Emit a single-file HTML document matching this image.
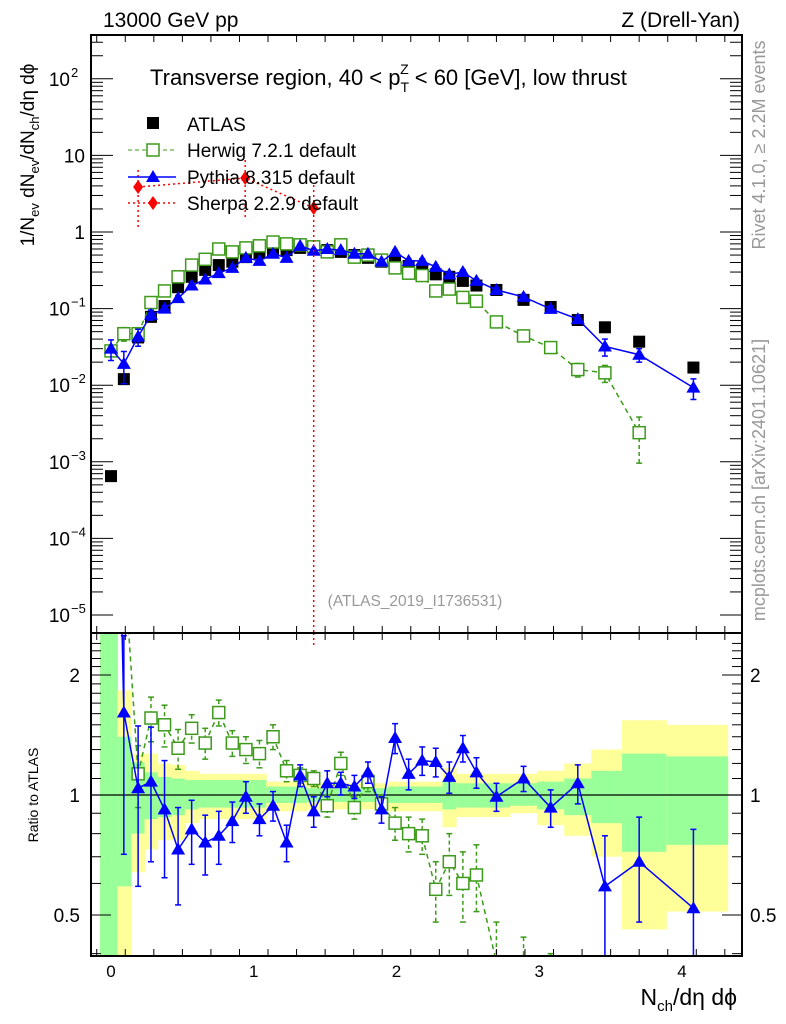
<!DOCTYPE html>
<html><head><meta charset="utf-8"><style>
html,body{margin:0;padding:0;background:#fff;overflow:hidden}
svg{display:block}
svg text{font-family:"Liberation Sans",sans-serif}
</style></head><body>
<svg id="c" width="786" height="1024" xmlns="http://www.w3.org/2000/svg">
<defs>
<clipPath id="cm"><rect x="91" y="35" width="651" height="598"/></clipPath>
<clipPath id="cr"><rect x="91" y="633" width="651" height="323"/></clipPath>
</defs>
<g id="bands" clip-path="url(#cr)"></g>
<g id="ratio" clip-path="url(#cr)"></g>
<g id="main" clip-path="url(#cm)"></g>
<g id="axes"></g>
<text x="103" y="27" font-size="21">13000 GeV pp</text>
<text x="740" y="27" font-size="21" text-anchor="end">Z (Drell-Yan)</text>
<text x="150" y="85" font-size="22">Transverse region, 40 &lt; p<tspan font-size="14" dy="7">T</tspan><tspan font-size="14" dx="-9" dy="-18">Z</tspan><tspan dy="11"> &lt; 60 [GeV], low thrust</tspan></text>
<text x="415" y="606" font-size="15.5" fill="#999" text-anchor="middle">(ATLAS_2019_I1736531)</text>
<text transform="translate(765,145) rotate(-90)" font-size="18" fill="#999" text-anchor="middle">Rivet 4.1.0, ≥ 2.2M events</text>
<text transform="translate(765,480) rotate(-90)" font-size="18" fill="#999" text-anchor="middle">mcplots.cern.ch [arXiv:2401.10621]</text>
<text transform="translate(34,155) rotate(-90)" font-size="19" text-anchor="middle">1/N<tspan font-size="13" dy="5">ev</tspan><tspan dy="-5"> dN</tspan><tspan font-size="13" dy="5">ev</tspan><tspan dy="-5">/dN</tspan><tspan font-size="13" dy="5">ch</tspan><tspan dy="-5">/dη dϕ</tspan></text>
<text transform="translate(38,795) rotate(-90)" font-size="14" text-anchor="middle">Ratio to ATLAS</text>
<text x="737" y="1005" font-size="23" text-anchor="end">N<tspan font-size="15" dy="6">ch</tspan><tspan dy="-6">/dη dϕ</tspan></text>
<g>
<rect x="147" y="117" width="12" height="12" fill="#000"/>
<text x="187" y="131" font-size="19">ATLAS</text>
<line x1="128" y1="150" x2="176" y2="150" stroke="#3d9a1a" stroke-dasharray="4,3"/>
<rect x="147" y="144" width="12" height="12" fill="#fff" stroke="#3d9a1a" stroke-width="1.5"/>
<text x="187" y="157" font-size="19">Herwig 7.2.1 default</text>
<line x1="128" y1="177" x2="176" y2="177" stroke="#00f" stroke-width="1.5"/>
<polygon points="153,170 160,182 146,182" fill="#00f"/>
<text x="187" y="184" font-size="19">Pythia 8.315 default</text>
<line x1="128" y1="203" x2="176" y2="203" stroke="#f00" stroke-width="1.5" stroke-dasharray="2,3"/>
<polygon points="153,196 158,203 153,210 148,203" fill="#f00"/>
<text x="187" y="210" font-size="19">Sherpa 2.2.9 default</text>
</g>
</svg>
<script>
const xCenters=[0,0.09,0.19,0.28,0.375,0.47,0.565,0.66,0.755,0.85,0.945,1.04,1.135,1.23,1.325,1.42,1.515,1.61,1.705,1.80,1.895,1.99,2.085,2.18,2.275,2.37,2.465,2.56,2.70,2.89,3.08,3.27,3.46,3.70,4.08];
const atlas=[0.00065,0.012,0.042,0.078,0.108,0.19,0.26,0.32,0.37,0.41,0.47,0.53,0.58,0.58,0.62,0.62,0.58,0.55,0.50,0.46,0.41,0.40,0.36,0.32,0.28,0.26,0.23,0.20,0.175,0.13,0.105,0.071,0.057,0.037,0.017];
const herwig=[0.028,0.047,0.047,0.12,0.17,0.26,0.37,0.44,0.60,0.55,0.62,0.66,0.74,0.70,0.68,0.64,0.55,0.68,0.47,0.50,0.43,0.34,0.29,0.27,0.17,0.18,0.14,0.125,0.067,0.044,0.031,0.016,0.0145,0.0024,null];
const herwigErr=[0.15,0.2,0.15,0.08,0.06,0.05,0.05,0.05,0.05,0.05,0.05,0.05,0.05,0.05,0.05,0.05,0.05,0.05,0.05,0.05,0.05,0.05,0.05,0.05,0.06,0.06,0.07,0.07,0.08,0.12,0.15,0.2,0.25,0.6,0];
const pythia=[0.030,0.019,0.043,0.083,0.10,0.137,0.20,0.24,0.29,0.34,0.46,0.42,0.52,0.46,0.66,0.57,0.60,0.58,0.52,0.52,0.41,0.55,0.42,0.42,0.35,0.28,0.30,0.23,0.175,0.142,0.099,0.073,0.032,0.025,0.0093];
const pythiaErr=[0.3,0.45,0.25,0.15,0.1,0.08,0.06,0.05,0.05,0.05,0.05,0.05,0.05,0.05,0.05,0.05,0.05,0.05,0.05,0.05,0.05,0.06,0.06,0.06,0.06,0.07,0.07,0.07,0.07,0.08,0.1,0.12,0.25,0.2,0.3];
const sherpaX=[0.19,0.94,1.42];
const sherpa=[3.87,5.06,2.06];
const sherpaUp=[6.45,8.7,4.1];
const sherpaDn=[1.16,1.43,1e-9];
const herwigRatio=[43,3.9,1.13,1.56,1.50,1.31,1.47,1.35,1.61,1.35,1.30,1.27,1.40,1.15,1.12,1.10,0.94,1.20,0.93,1.08,0.95,0.85,0.80,0.79,0.58,0.68,0.60,0.63,0.38,0.34,0.30,0.22,0.25,0.065,null];
const herwigRatioErr=[0,0.5,0.2,0.2,0.18,0.15,0.12,0.12,0.12,0.1,0.1,0.1,0.1,0.07,0.05,0.05,0.06,0.08,0.06,0.06,0.05,0.08,0.08,0.08,0.1,0.12,0.12,0.12,0.1,0.1,0.1,0.1,0.1,0.1,0];
const pythiaRatio=[46,1.61,1.04,1.08,0.92,0.73,0.82,0.76,0.79,0.86,0.99,0.87,0.94,0.76,1.12,0.91,1.07,1.07,1.05,1.14,0.92,1.39,1.13,1.22,1.21,1.11,1.31,1.14,0.99,1.10,0.93,1.07,0.59,0.68,0.52];
const pythiaRatioErr=[0,0.9,0.45,0.4,0.3,0.2,0.15,0.13,0.12,0.1,0.09,0.08,0.08,0.08,0.07,0.08,0.08,0.07,0.07,0.07,0.07,0.12,0.1,0.1,0.1,0.1,0.1,0.1,0.08,0.08,0.1,0.12,0.2,0.2,0.3];
const yellowUp=[2.6,1.83,1.27,1.27,1.20,1.19,1.15,1.13,1.13,1.13,1.13,1.13,1.08,1.08,1.08,1.07,1.07,1.07,1.07,1.07,1.07,1.08,1.08,1.08,1.08,1.17,1.13,1.13,1.13,1.13,1.15,1.20,1.30,1.54,1.50];
const yellowDn=[0.3,0.3,0.64,0.73,0.77,0.77,0.85,0.87,0.87,0.87,0.87,0.87,0.91,0.91,0.91,0.92,0.92,0.92,0.92,0.92,0.92,0.91,0.91,0.91,0.91,0.83,0.88,0.88,0.88,0.90,0.84,0.79,0.70,0.46,0.51];
const greenUp=[2.6,1.40,1.21,1.14,1.11,1.10,1.09,1.09,1.09,1.09,1.09,1.09,1.05,1.05,1.05,1.04,1.04,1.04,1.04,1.04,1.04,1.05,1.05,1.05,1.05,1.08,1.07,1.07,1.07,1.07,1.08,1.10,1.15,1.27,1.25];
const greenDn=[0.3,0.59,0.80,0.87,0.88,0.89,0.92,0.93,0.93,0.93,0.93,0.93,0.955,0.955,0.955,0.96,0.96,0.96,0.96,0.96,0.96,0.955,0.955,0.955,0.955,0.92,0.93,0.93,0.93,0.94,0.92,0.89,0.85,0.72,0.75];
const xTicks=[0,1,2,3,4];
const yTickExp=[-5,-4,-3,-2,-1,0,1,2];
const yTickLabels=["10","10","10","10","10","1","10","10"];
const yTickSups=["−5","−4","−3","−2","−1","","","2"];
const rTicks=[0.5,1,2];

const NS="http://www.w3.org/2000/svg";
const xS=u=>111+142.75*u;
const yM=v=>232-76.6*Math.log10(v);
const yR=r=>795-120*Math.log2(r);
function mk(tag,attrs,parent){const e=document.createElementNS(NS,tag);for(const k in attrs)e.setAttribute(k,attrs[k]);parent.appendChild(e);return e;}
const gB=document.getElementById('bands'),gR=document.getElementById('ratio'),gM=document.getElementById('main'),gA=document.getElementById('axes');

const edges=[];
for(let i=0;i<xCenters.length;i++){
  const lo=i==0?xCenters[0]-(xCenters[1]-xCenters[0])*0.85:(xCenters[i-1]+xCenters[i])/2;
  edges.push(lo);
}
edges.push(xCenters[xCenters.length-1]+(xCenters[xCenters.length-1]-xCenters[xCenters.length-2])/2+0.05);
for(let i=0;i<xCenters.length;i++){
  const x0=xS(edges[i]),x1=xS(edges[i+1]);
  const y=mk('rect',{x:x0,y:yR(yellowUp[i]),width:x1-x0+0.5,height:yR(yellowDn[i])-yR(yellowUp[i]),fill:'#ffff99'},gB);
  
  
  const g=mk('rect',{x:x0,y:yR(greenUp[i]),width:x1-x0+0.5,height:yR(greenDn[i])-yR(greenUp[i]),fill:'#99ff99'},gB);
  
  
}
mk('line',{x1:91,y1:795,x2:742,y2:795,stroke:'#000','stroke-width':1.2},gB);

function sq(g,x,y,col,fill,name){const r=mk('rect',{x:x-6,y:y-6,width:12,height:12,fill:fill,stroke:col,'stroke-width':fill=='#fff'?1.5:0},g);return r;}
function tri(g,x,y,name){const p=mk('polygon',{points:`${x},${y-7} ${x+7},${y+5} ${x-7},${y+5}`,fill:'#00f'},g);}
function eb(g,x,y1,y2,col,dash){mk('line',{x1:x,y1:y1,x2:x,y2:y2,stroke:col,'stroke-width':1.5,'stroke-dasharray':dash||'none'},g);mk('line',{x1:x-3,y1:y1,x2:x+3,y2:y1,stroke:col,'stroke-width':1.5},g);mk('line',{x1:x-3,y1:y2,x2:x+3,y2:y2,stroke:col,'stroke-width':1.5},g);}

let pts=[];
xCenters.forEach((u,i)=>{if(herwigRatio[i]!=null)pts.push([xS(u),yR(herwigRatio[i])]);});
const hl=mk('polyline',{points:pts.map(p=>p.join(',')).join(' '),fill:'none',stroke:'#3d9a1a','stroke-width':1.5,'stroke-dasharray':'5,4'},gR);


xCenters.forEach((u,i)=>{if(herwigRatio[i]==null)return;const x=xS(u),r=herwigRatio[i],e=herwigRatioErr[i];
  if(e>0)eb(gR,x,yR(r+e),yR(Math.max(r-e,0.01)),'#3d9a1a','4,3');
  sq(gR,x,yR(r),'#3d9a1a','#fff','herwig-ratio-point-'+i);});
pts=xCenters.map((u,i)=>[xS(u),yR(pythiaRatio[i])]);
const pl=mk('polyline',{points:pts.map(p=>p.join(',')).join(' '),fill:'none',stroke:'#00f','stroke-width':1.5},gR);


xCenters.forEach((u,i)=>{const x=xS(u),r=pythiaRatio[i],e=pythiaRatioErr[i];
  if(e>0)eb(gR,x,yR(r+e),yR(Math.max(r-e,0.01)),'#00f');
  tri(gR,x,yR(r),'pythia-ratio-point-'+i);});
mk('line',{x1:xS(sherpaX[2]),y1:633,x2:xS(sherpaX[2]),y2:645,stroke:'#f00','stroke-width':1.5,'stroke-dasharray':'2,3'},gR);

xCenters.forEach((u,i)=>{sq(gM,xS(u),yM(atlas[i]),'#000','#000','atlas-point-'+i);});
pts=[];xCenters.forEach((u,i)=>{if(herwig[i]!=null)pts.push([xS(u),yM(herwig[i])]);});
const hm=mk('polyline',{points:pts.map(p=>p.join(',')).join(' '),fill:'none',stroke:'#3d9a1a','stroke-width':1.5,'stroke-dasharray':'5,4'},gM);


xCenters.forEach((u,i)=>{if(herwig[i]==null)return;const x=xS(u),v=herwig[i],e=herwigErr[i];
  eb(gM,x,yM(v*(1+e)),yM(v*(1-Math.min(e,0.9))),'#3d9a1a','4,3');
  sq(gM,x,yM(v),'#3d9a1a','#fff','herwig-point-'+i);});
pts=xCenters.map((u,i)=>[xS(u),yM(pythia[i])]);
const pm=mk('polyline',{points:pts.map(p=>p.join(',')).join(' '),fill:'none',stroke:'#00f','stroke-width':1.5},gM);


xCenters.forEach((u,i)=>{const x=xS(u),v=pythia[i],e=pythiaErr[i];
  eb(gM,x,yM(v*(1+e)),yM(v*(1-e)),'#00f');
  tri(gM,x,yM(v),'pythia-point-'+i);});
pts=sherpaX.map((u,i)=>[xS(u),yM(sherpa[i])]);
const sl=mk('polyline',{points:pts.map(p=>p.join(',')).join(' '),fill:'none',stroke:'#f00','stroke-width':1.5,'stroke-dasharray':'2,3'},gM);


sherpaX.forEach((u,i)=>{const x=xS(u),y=yM(sherpa[i]);
  mk('line',{x1:x,y1:yM(sherpaUp[i]),x2:x,y2:yM(sherpaDn[i]),stroke:'#f00','stroke-width':1.5,'stroke-dasharray':'2,3'},gM);
  const d=mk('polygon',{points:`${x},${y-7} ${x+5},${y} ${x},${y+7} ${x-5},${y}`,fill:'#f00'},gM);
  
  });

mk('rect',{x:91,y:35,width:651,height:921,fill:'none',stroke:'#000','stroke-width':2},gA);
mk('line',{x1:91,y1:633,x2:742,y2:633,stroke:'#000','stroke-width':2},gA);
for(let u=-0.1;u<=4.4;u+=0.2){const uu=Math.round(u*10)/10;const x=xS(uu);if(x<92||x>741)continue;
  const major=Math.abs(uu-Math.round(uu))<1e-6;const L=major?15:7;
  [[35,1],[633,-1],[633,1],[956,-1]].forEach(([y,s])=>mk('line',{x1:x,y1:y,x2:x,y2:y+s*L,stroke:'#000','stroke-width':1},gA));}
xTicks.forEach(t=>{const tx=mk('text',{x:xS(t),y:977,'font-size':17,'text-anchor':'middle'},gA);tx.textContent=t;
  
  });
yTickExp.forEach((e,i)=>{const y=yM(Math.pow(10,e));
  mk('line',{x1:91,y1:y,x2:113,y2:y,stroke:'#000'},gA);mk('line',{x1:742,y1:y,x2:720,y2:y,stroke:'#000'},gA);
  for(let k=2;k<10;k++){const ym=yM(k*Math.pow(10,e));if(ym<36)continue;mk('line',{x1:91,y1:ym,x2:103,y2:ym,stroke:'#000'},gA);mk('line',{x1:742,y1:ym,x2:730,y2:ym,stroke:'#000'},gA);}
  const tx=mk('text',{x:yTickSups[i]?70:85,y:y+7,'font-size':19,'text-anchor':'end'},gA);tx.textContent=yTickLabels[i];
  
  
  if(yTickSups[i]){const s=mk('text',{x:71,y:y-2,'font-size':13},gA);s.textContent=yTickSups[i];}
});
for(let r=0.4;r<=2.5;r+=0.1){const rr=Math.round(r*10)/10;const y=yR(rr);if(y<634||y>955)continue;
  const major=rTicks.includes(rr);const L=major?20:10;
  mk('line',{x1:91,y1:y,x2:91+L,y2:y,stroke:'#000'},gA);mk('line',{x1:742,y1:y,x2:742-L,y2:y,stroke:'#000'},gA);}
rTicks.forEach(r=>{const y=yR(r)+7;
  const a=mk('text',{x:80,y:y,'font-size':19,'text-anchor':'end'},gA);a.textContent=r;
  
  
  const b=mk('text',{x:750,y:y,'font-size':19},gA);b.textContent=r;
  
  });
</script>
</body></html>
